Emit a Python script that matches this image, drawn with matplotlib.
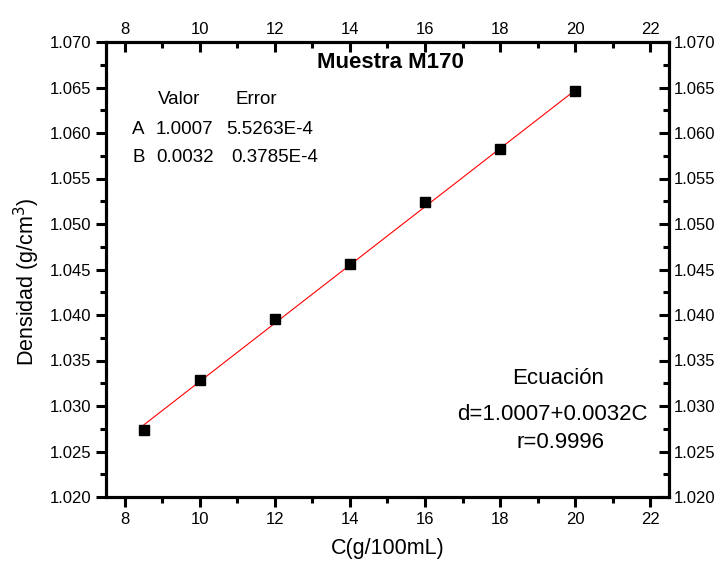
import matplotlib
matplotlib.use("Agg")
import matplotlib.pyplot as plt
from matplotlib.ticker import MultipleLocator

plt.rcParams["font.family"] = ["Liberation Sans", "DejaVu Sans"]

# datos
conc = [8.5, 10, 12, 14, 16, 18, 20]
densidad = [1.0274, 1.0329, 1.0396, 1.0456, 1.0524, 1.0582, 1.0646]
coef_a = 1.0007
coef_b = 0.0032
x_ticks = [8, 10, 12, 14, 16, 18, 20, 22]
y_ticks = [1.020, 1.025, 1.030, 1.035, 1.040, 1.045, 1.050, 1.055, 1.060, 1.065, 1.070]

W, H = 727, 566
fig = plt.figure(figsize=(W / 100, H / 100), dpi=100)
ax = fig.add_axes([106 / W, 1 - 497 / H, (669 - 106) / W, (497 - 42) / H])

# recta de ajuste
x_fit = [conc[0], conc[-1]]
y_fit = [coef_a + coef_b * c for c in x_fit]
ax.plot(x_fit, y_fit, color="red", lw=0.8, zorder=2)
ax.plot(conc, densidad, ls="none", marker="s", ms=7.5, color="black", zorder=3)

ax.set_xlim(7.5, 22.5)
ax.set_ylim(1.020, 1.070)
ax.set_xticks(x_ticks)
ax.set_yticks(y_ticks)
ax.set_yticklabels([f"{v:.3f}" for v in y_ticks])
ax.xaxis.set_minor_locator(MultipleLocator(1))
ax.yaxis.set_minor_locator(MultipleLocator(0.0025))
ax.tick_params(which="major", direction="out", length=7, width=2.2, labelsize=12)
ax.tick_params(which="minor", direction="out", length=4, width=2.2)
for s in ax.spines.values():
    s.set_linewidth(2.2)

# ejes superior y derecho
ax_top = ax.twiny()
ax_top.set_xlim(ax.get_xlim())
ax_top.set_xticks(x_ticks)
ax_top.xaxis.set_minor_locator(MultipleLocator(1))
ax_top.tick_params(which="major", direction="in", length=7, width=2.2, labelsize=12)
ax_top.tick_params(which="minor", direction="in", length=4, width=2.2)

ax_r = ax.twinx()
ax_r.set_ylim(ax.get_ylim())
ax_r.set_yticks(y_ticks)
ax_r.set_yticklabels([f"{v:.3f}" for v in y_ticks])
ax_r.yaxis.set_minor_locator(MultipleLocator(0.0025))
ax_r.tick_params(which="major", direction="in", length=7, width=2.2, labelsize=12)
ax_r.tick_params(which="minor", direction="in", length=4, width=2.2)
for a in (ax_top, ax_r):
    for s in a.spines.values():
        s.set_linewidth(2.2)

ax.set_xlabel("C(g/100mL)", fontsize=15.5, va="center")
ax.xaxis.set_label_coords(0.5, -0.114)
ax.set_ylabel("Densidad (g/cm$^3$)", fontsize=15.5, va="center")
ax.yaxis.set_label_coords(-0.140, 0.4725)

def ftxt(px, py, s, **kw):
    fig.text(px / W, 1 - py / H, s, **kw)

ftxt(390, 63, "Muestra M170", fontsize=16, fontweight="bold", ha="center", va="center")

ftxt(158, 100, "Valor", fontsize=13.5, va="center")
ftxt(236, 100, "Error", fontsize=13.5, va="center")
ftxt(132, 130, "A", fontsize=13.5, va="center")
ftxt(156, 130, "1.0007", fontsize=13.5, va="center")
ftxt(226, 130, "5.5263E-4", fontsize=13.5, va="center")
ftxt(132, 157, "B", fontsize=13.5, va="center")
ftxt(156, 157, "0.0032", fontsize=13.5, va="center")
ftxt(231, 157, "0.3785E-4", fontsize=13.5, va="center")

ftxt(558, 379, "Ecuación", fontsize=16, ha="center", va="center")
ftxt(552, 414, "d=1.0007+0.0032C", fontsize=16, ha="center", va="center")
ftxt(561, 443, "r=0.9996", fontsize=16, ha="center", va="center")

fig.savefig("out.png", dpi=100)
